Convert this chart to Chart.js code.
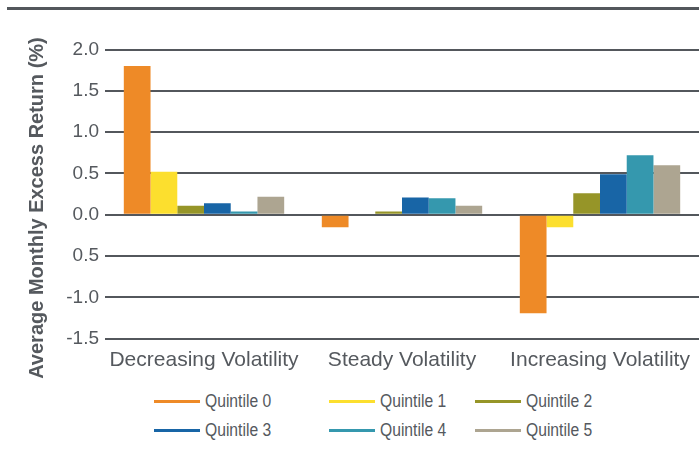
<!DOCTYPE html>
<html>
<head>
<meta charset="utf-8">
<script src="https://cdn.jsdelivr.net/npm/chart.js@4.4.1/dist/chart.umd.min.js"></script>
<style>
  body { margin: 0; background: #fff; width: 699px; height: 454px; overflow: hidden; position: relative; }
  .rule { position: absolute; left: 7px; top: 7px; width: 692px; height: 3px; background: #53575c; }
  #wrap { position: absolute; left: 0; top: 0; }
  #legend { position: absolute; left: 154px; top: 387px; display: grid;
    grid-template-columns: 175px 146px 160px; grid-auto-rows: 29px; }
  .item { display: flex; align-items: center; font: 18px 'Liberation Sans', sans-serif; color: #55595e; }
  .item span.line { display: inline-block; width: 46px; height: 3px; margin-right: 5px; }
  .item span.txt { display: inline-block; transform: scaleX(0.87); transform-origin: left center; white-space: nowrap; }
</style>
</head>
<body>
<div class="rule"></div>
<div id="wrap"><canvas id="chart" width="699" height="383"></canvas></div>
<div id="legend"></div>
<script>
const categories = ['Decreasing Volatility', 'Steady Volatility', 'Increasing Volatility']
const seriesNames = ['Quintile 0', 'Quintile 1', 'Quintile 2', 'Quintile 3', 'Quintile 4', 'Quintile 5']
const quintile0 = [1.80, -0.15, -1.19]
const quintile1 = [0.52, 0.00, -0.15]
const quintile2 = [0.11, 0.04, 0.26]
const quintile3 = [0.14, 0.21, 0.49]
const quintile4 = [0.04, 0.20, 0.72]
const quintile5 = [0.22, 0.11, 0.60]
const colors = ['#ee8a27', '#fcdf2e', '#969528', '#1865a6', '#3598ae', '#ada591']
// tick labels as printed in the source (note the "0.5" below zero)
const tickLabels = { '-1.5': '-1.5', '-1': '-1.0', '-0.5': '0.5', '0': '0.0', '0.5': '0.5', '1': '1.0', '1.5': '1.5', '2': '2.0' }

const values = [quintile0, quintile1, quintile2, quintile3, quintile4, quintile5]
const gray = '#53575c'
const textGray = '#55595e'

let chart = new Chart(document.getElementById('chart'), {
    type: 'bar',
    data: {
        labels: categories,
        datasets: seriesNames.map((name, i) => ({
            label: name,
            data: values[i],
            backgroundColor: colors[i],
            borderWidth: 0,
            categoryPercentage: 0.81,
            barPercentage: 1.0
        }))
    },
    options: {
        responsive: false,
        animation: false,
        layout: { padding: { left: 21, top: 49.5, right: 0, bottom: 1 } },
        plugins: {
            legend: { display: false },
            tooltip: { enabled: false }
        },
        scales: {
            x: {
                grid: { display: false, drawTicks: false },
                border: { display: false },
                ticks: {
                    padding: 9,
                    color: textGray,
                    maxRotation: 0,
                    font: { family: 'Liberation Sans', size: 21 }
                }
            },
            y: {
                min: -1.5,
                max: 2.0,
                afterFit: scale => { scale.width = 84 },
                grid: { color: gray, lineWidth: 2, drawTicks: false },
                border: { display: false },
                ticks: {
                    stepSize: 0.5,
                    padding: 6,
                    color: textGray,
                    font: { family: 'Liberation Sans', size: 19 },
                    callback: v => tickLabels[String(Math.round(v * 10) / 10)]
                },
                title: {
                    display: true,
                    // trailing spaces push the title a bit lower, like the source
                    text: 'Average Monthly Excess Return (%)     ',
                    color: textGray,
                    font: { family: 'Liberation Sans', size: 20, weight: 'bold' }
                }
            }
        }
    }
})

// html legend, two rows of three
let legend = document.getElementById('legend')
chart.data.datasets.forEach(ds => {
    let item = document.createElement('div')
    item.className = 'item'
    item.innerHTML = '<span class="line" style="background:' + ds.backgroundColor + '"></span><span class="txt">' + ds.label + '</span>'
    legend.appendChild(item)
})
</script>
</body>
</html>
